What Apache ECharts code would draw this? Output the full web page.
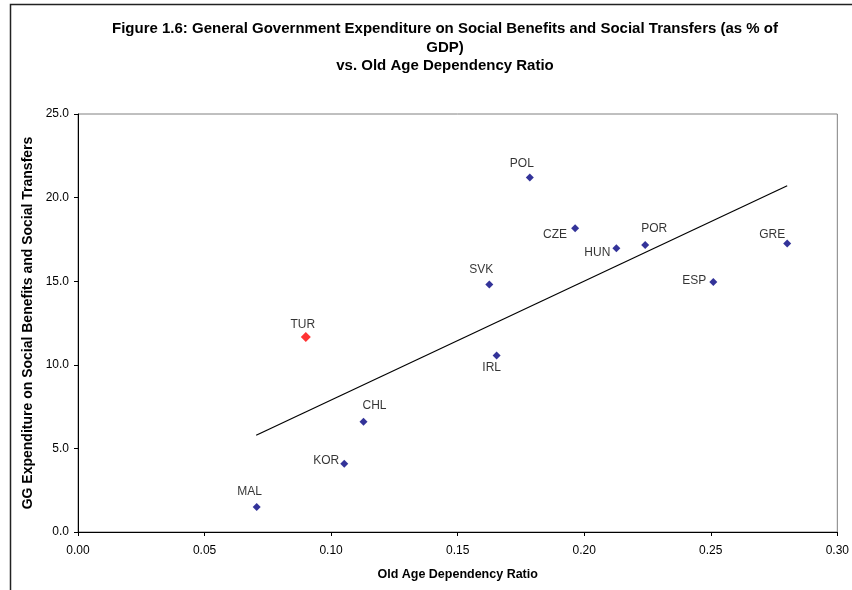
<!DOCTYPE html>
<html>
<head>
<meta charset="utf-8">
<script src="https://cdn.jsdelivr.net/npm/echarts@6/dist/echarts.min.js"></script>
<style>
  html, body { margin: 0; padding: 0; background: #fff; }
  #chart { width: 852px; height: 590px; }
</style>
</head>
<body>
<div id="chart"></div>
<script>
// Country codes, old age dependency ratio (x) and GG social expenditure, % of GDP (y)
const countries = ['POL', 'SVK', 'IRL', 'CZE', 'HUN', 'POR', 'GRE', 'ESP', 'CHL', 'KOR', 'MAL'];
const dependencyRatio = [0.1785, 0.1625, 0.1654, 0.1964, 0.2127, 0.2241, 0.2802, 0.2510, 0.1128, 0.1052, 0.0706];
const socialExpenditure = [21.2, 14.8, 10.55, 18.16, 16.97, 17.16, 17.26, 14.95, 6.59, 4.08, 1.49];

// Highlighted country
const focusCountry = 'TUR';
const focusRatio = 0.0900;
const focusExpenditure = 11.67;

// Linear trend line end points
const trendX = [0.0704, 0.2802];
const trendY = [5.79, 20.71];

// Axis ticks
const xTicks = [0, 0.05, 0.10, 0.15, 0.20, 0.25, 0.30];
const yTicks = [0, 5, 10, 15, 20, 25];

// Label placement relative to each marker (px)
const labelOffsets = [[-8, -14], [-8, -15], [-5, 12], [-20, 6], [-19, 4], [9, -16], [-15, -9], [-19, -1], [11, -16], [-18, -3], [-7, -15]];
const focusLabelOffset = [-3, -12];

const FONT = "'Liberation Sans', Arial, sans-serif";

const chart = echarts.init(document.getElementById('chart'), null, { renderer: 'canvas' });

const points = countries.map((c, i) => ({
  name: c,
  value: [dependencyRatio[i], socialExpenditure[i]],
  label: { offset: labelOffsets[i] }
}));

const titleLines = [
  'Figure 1.6: General Government Expenditure on Social Benefits and Social Transfers (as % of',
  'GDP)',
  'vs. Old Age Dependency Ratio'
];

chart.setOption({
  animation: false,
  backgroundColor: '#ffffff',
  textStyle: { fontFamily: FONT },
  graphic: [
    {
      type: 'rect',
      shape: { x: 10.5, y: 4.5, width: 900, height: 700 },
      style: { fill: 'none', stroke: '#222', lineWidth: 1.5 },
      silent: true
    },
    ...titleLines.map((t, i) => ({
      type: 'text',
      x: 445,
      y: 29 + i * 18.5,
      style: {
        text: t,
        fill: '#000',
        font: 'bold 15px ' + FONT,
        textAlign: 'center',
        textVerticalAlign: 'middle'
      }
    }))
  ],
  grid: {
    left: 78, right: 12, top: 114, bottom: 58,
    show: true, borderColor: '#808080', borderWidth: 1, backgroundColor: '#fff'
  },
  xAxis: {
    type: 'value',
    min: xTicks[0], max: xTicks[xTicks.length - 1], interval: 0.05,
    name: 'Old Age Dependency Ratio',
    nameLocation: 'middle', nameGap: 36,
    nameTextStyle: { fontFamily: FONT, fontSize: 12.5, fontWeight: 'bold', color: '#000' },
    axisLine: { show: true, onZero: false, lineStyle: { color: '#000', width: 1 } },
    axisTick: { show: true, inside: false, length: 4, lineStyle: { color: '#000' } },
    axisLabel: { fontFamily: FONT, fontSize: 12, color: '#000', margin: 13, formatter: v => v.toFixed(2) },
    splitLine: { show: false }
  },
  yAxis: {
    type: 'value',
    min: yTicks[0], max: yTicks[yTicks.length - 1], interval: 5,
    name: 'GG Expenditure on Social Benefits and Social Transfers',
    nameLocation: 'middle', nameGap: 37,
    nameTextStyle: { fontFamily: FONT, fontSize: 14, fontWeight: 'bold', color: '#000' },
    axisLine: { show: true, onZero: false, lineStyle: { color: '#000', width: 1 } },
    axisTick: { show: true, inside: false, length: 4, lineStyle: { color: '#000' } },
    axisLabel: { fontFamily: FONT, fontSize: 12, color: '#000', margin: 9, formatter: v => v.toFixed(1) },
    splitLine: { show: false }
  },
  series: [
    {
      type: 'line',
      data: trendX.map((x, i) => [x, trendY[i]]),
      symbol: 'none',
      lineStyle: { color: '#000', width: 1.2 },
      z: 2
    },
    {
      type: 'scatter',
      data: points,
      symbol: 'diamond',
      symbolSize: [8, 8],
      itemStyle: { color: '#000080' },
      label: {
        show: true, position: 'inside', formatter: '{b}',
        fontFamily: FONT, fontSize: 12, color: '#000'
      },
      z: 3
    },
    {
      type: 'scatter',
      data: [{ name: focusCountry, value: [focusRatio, focusExpenditure], label: { offset: focusLabelOffset } }],
      symbol: 'diamond',
      symbolSize: [10, 10],
      itemStyle: { color: '#ff0000' },
      label: {
        show: true, position: 'inside', formatter: '{b}',
        fontFamily: FONT, fontSize: 12, color: '#000'
      },
      z: 3
    }
  ]
});
</script>
</body>
</html>
